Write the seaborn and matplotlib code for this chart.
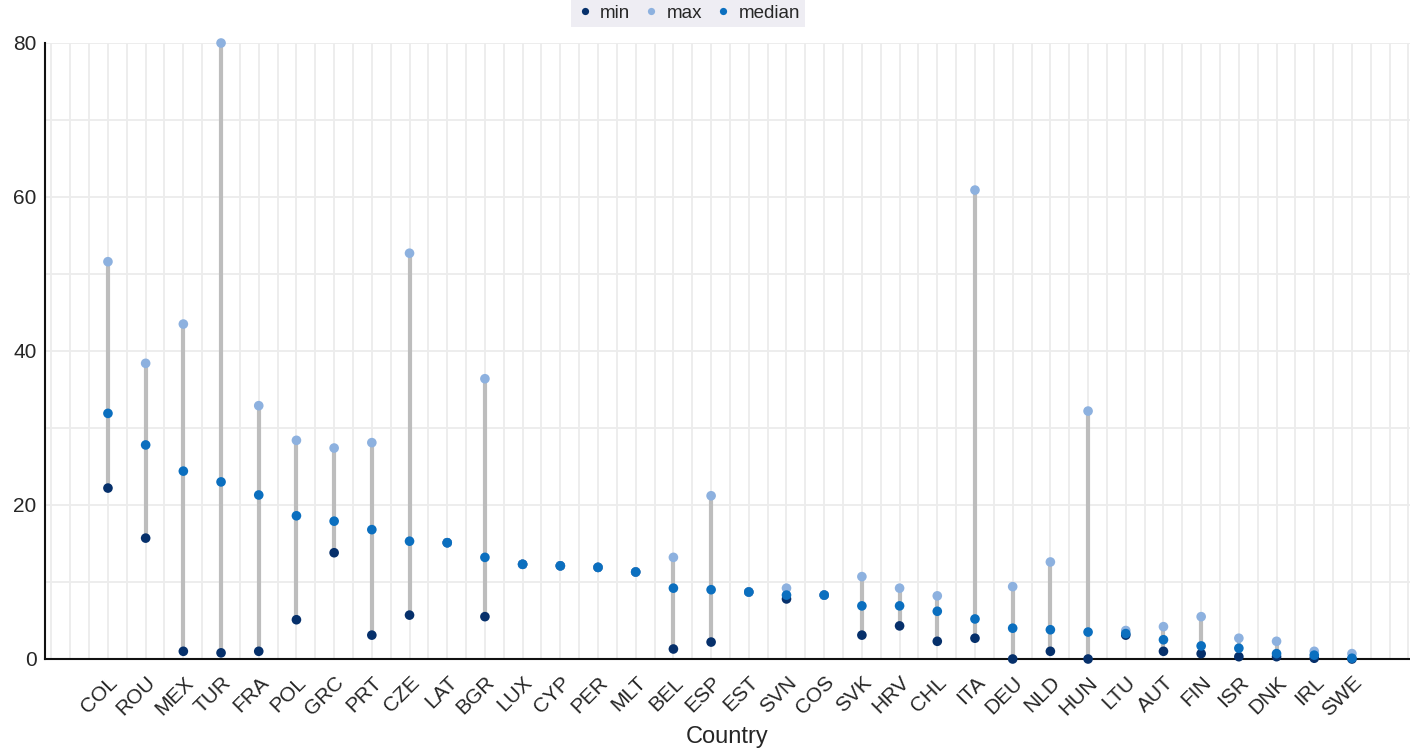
import numpy as np
import pandas as pd
import matplotlib
matplotlib.use("Agg")
import matplotlib.pyplot as plt
import seaborn as sns

countries = ["COL", "ROU", "MEX", "TUR", "FRA", "POL", "GRC", "PRT", "CZE", "LAT",
             "BGR", "LUX", "CYP", "PER", "MLT", "BEL", "ESP", "EST", "SVN", "COS",
             "SVK", "HRV", "CHL", "ITA", "DEU", "NLD", "HUN", "LTU", "AUT", "FIN",
             "ISR", "DNK", "IRL", "SWE"]
min_vals = [22.2, 15.7, 1.0, 0.8, 1.0, 5.1, 13.8, 3.1, 5.7, 15.1,
            5.5, 12.3, 12.1, 11.9, 11.3, 1.3, 2.2, 8.7, 7.8, 8.3,
            3.1, 4.3, 2.3, 2.7, 0.0, 1.0, 0.0, 3.1, 1.0, 0.7,
            0.3, 0.3, 0.1, 0.0]
max_vals = [51.6, 38.4, 43.5, 80.0, 32.9, 28.4, 27.4, 28.1, 52.7, 15.1,
            36.4, 12.3, 12.1, 11.9, 11.3, 13.2, 21.2, 8.7, 9.2, 8.3,
            10.7, 9.2, 8.2, 60.9, 9.4, 12.6, 32.2, 3.7, 4.2, 5.5,
            2.7, 2.3, 1.0, 0.7]
median_vals = [31.9, 27.8, 24.4, 23.0, 21.3, 18.6, 17.9, 16.8, 15.3, 15.1,
               13.2, 12.3, 12.1, 11.9, 11.3, 9.2, 9.0, 8.7, 8.3, 8.3,
               6.9, 6.9, 6.2, 5.2, 4.0, 3.8, 3.5, 3.3, 2.5, 1.7,
               1.4, 0.7, 0.5, 0.1]
stats = ["min", "max", "median"]
y_ticks = [0, 20, 40, 60, 80]

palette = {"min": "#06306b", "max": "#8db1df", "median": "#0b6fbf"}

sns.set_theme(style="white")
plt.rcParams["font.family"] = ["Liberation Sans Narrow", "Liberation Sans", "DejaVu Sans"]

wide = pd.DataFrame({"Country": countries, "min": min_vals,
                     "max": max_vals, "median": median_vals})
wide["pos"] = np.arange(len(countries))
long = wide.melt(id_vars=["Country", "pos"], value_vars=stats,
                 var_name="stat", value_name="value")

fig = plt.figure(figsize=(14.10, 7.51), dpi=100)
ax = fig.add_axes([45 / 1410, 92 / 751, 1 - 45 / 1410, (659 - 43) / 751])

# light grid: every half category and every 10 units
for xv in np.arange(-1.5, 35, 0.5):
    ax.axvline(xv, color="#ececec", lw=1.3, zorder=0)
for yv in range(10, 90, 10):
    ax.axhline(yv, color="#ececec", lw=1.3, zorder=0)

# range stems
ax.vlines(wide["pos"], wide["min"], wide["max"], color="#bdbdbd", lw=3, zorder=1)

sns.scatterplot(data=long, x="pos", y="value", hue="stat", hue_order=stats,
                palette=palette, s=48, edgecolor="none", ax=ax, zorder=3,
                clip_on=False, legend=True)

ax.set_xlim(-1.67, 34.54)
ax.set_ylim(0, 80)
ax.set_xticks(wide["pos"])
ax.set_xticklabels(countries, rotation=45, ha="right", rotation_mode="anchor",
                   fontsize=15, color="#262626")
ax.set_yticks(y_ticks)
ax.set_yticklabels([str(v) for v in y_ticks], fontsize=15, color="#262626")
ax.tick_params(axis="both", direction="in", length=6, width=1.3, color="#111111",
               pad=6)
ax.tick_params(axis="x", pad=10)
ax.set_xlabel("Country", fontsize=17, color="#262626", labelpad=4)
ax.set_ylabel("")

for side in ["top", "right"]:
    ax.spines[side].set_visible(False)
for side in ["left", "bottom"]:
    ax.spines[side].set_color("#111111")
    ax.spines[side].set_linewidth(1.5)

handles, labels = ax.get_legend_handles_labels()
ax.legend_.remove()
leg = fig.legend(handles, labels, loc="upper center", ncol=3,
                 bbox_to_anchor=(688 / 1410, 1.0), fontsize=13.5,
                 frameon=True, facecolor="#eeedf3", edgecolor="none",
                 framealpha=1, fancybox=False, handlelength=0.9,
                 handletextpad=0.35, columnspacing=0.7, borderpad=0.25,
                 borderaxespad=0.0, markerscale=0.75)

fig.savefig("out.png", dpi=100)
